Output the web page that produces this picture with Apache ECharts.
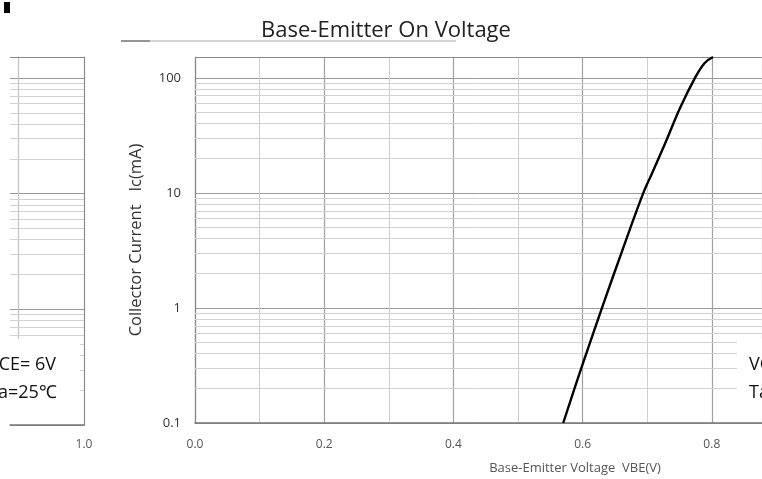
<!DOCTYPE html>
<html><head><meta charset="utf-8">
<script src="https://cdn.jsdelivr.net/npm/echarts@6/dist/echarts.min.js"></script>
<style>html,body{margin:0;padding:0;background:#fff}#c{width:762px;height:479px}</style>
</head><body><div id="c"></div>
<script>
// Data
const vbe = [0.570, 0.598, 0.630, 0.660, 0.694, 0.707, 0.729, 0.751, 0.774, 0.789, 0.802];
const ic  = [0.1, 0.3, 1, 3, 10, 14.6, 28, 55, 100, 135, 152];
const minorGridValues = [0.2,0.3,0.4,0.5,0.6,0.7,0.8,0.9, 2,3,4,5,6,7,8,9, 20,30,40,50,60,70,80,90];
const yMin = 0.1;
const yTop = 152;
const fragmentLabels = [1.0];
const titleText = 'Base-Emitter On Voltage';
const yName = 'Collector Current   Ic(mA)';
const xName = 'Base-Emitter Voltage  VBE(V)';
const condLines = ['VCE= 6V', 'Ta=25\u2103'];

const font = 'Open Sans, sans-serif';
const chart = echarts.init(document.getElementById('c'), null, {renderer:'canvas'});
const pts = vbe.map((v,i)=>[v, ic[i]]);
function gridLines(){
  const d = minorGridValues.map(v=>({yAxis:v}));
  d.push({yAxis:yTop, lineStyle:{color:'#8a8a8a', width:1.2}});
  return {
    silent:true, symbol:'none', animation:false, label:{show:false},
    lineStyle:{color:'#d2d2d2', width:1, type:'solid'}, data:d
  };
}
function yAx(gi, main){
  return {
    type:'log', logBase:10, min:yMin, max:yTop, gridIndex:gi, position: main ? 'left' : 'right',
    axisLine:{show:true, lineStyle:{color:'#8a8a8a', width:1.2}}, axisTick:{show:false},
    axisLabel:{show:main, color:'#333', fontSize:13, fontFamily:font, margin:14, showMaxLabel:false},
    splitLine:{show:true, lineStyle:{color:'#9a9a9a', width:1}},
    name: main ? yName : '', nameLocation:'middle', nameGap:50, nameRotate:90,
    nameTextStyle:{color:'#333', fontSize:16.5, fontFamily:font}
  };
}
chart.setOption({
  animation:false,
  backgroundColor:'#fff',
  grid:[
    {left:195, top:57, width:567, height:366, show:false},
    {left:10, top:57, width:74, height:368, show:false},
    {left:18, top:57, width:66, height:282, show:false}
  ],
  xAxis:[
    {type:'value', min:0, max:0.8777, interval:0.2, gridIndex:0,
     axisLine:{show:true, onZero:false, lineStyle:{color:'#777', width:1.5}},
     axisTick:{show:false},
     axisLabel:{color:'#555', fontSize:12, fontFamily:font, margin:16,
       formatter:v=>v.toFixed(1), showMaxLabel:false},
     splitLine:{show:true, lineStyle:{color:'#a0a0a0', width:1.2}},
     minorTick:{show:false, splitNumber:2},
     minorSplitLine:{show:true, lineStyle:{color:'#cfcfcf', width:1}}},
    {type:'value', min:0.888, max:1.0, gridIndex:1,
     axisLine:{show:true, onZero:false, lineStyle:{color:'#777', width:1.5}},
     axisTick:{show:false},
     axisLabel:{color:'#555', fontSize:12, fontFamily:font, margin:14,
       customValues:fragmentLabels, formatter:v=>v.toFixed(1)},
     splitLine:{show:false}},
    {type:'value', min:0.9, max:1.0, interval:0.1, gridIndex:2,
     axisLine:{show:false}, axisTick:{show:false}, axisLabel:{show:false},
     splitLine:{show:false}}
  ],
  yAxis:[ yAx(0, true), yAx(1, false),
    {type:'value', min:0, max:1, gridIndex:2, position:'left',
     axisLine:{show:true, lineStyle:{color:'#c4c4c4', width:1.3}},
     axisTick:{show:false}, axisLabel:{show:false}, splitLine:{show:false}} ],
  series:[
    {type:'line', xAxisIndex:0, yAxisIndex:0, data:pts, smooth:0.4, showSymbol:false,
     lineStyle:{color:'#000', width:2.4}, markLine:gridLines(), z:5},
    {type:'scatter', xAxisIndex:1, yAxisIndex:1, data:[[0.95, 1]], symbolSize:0, silent:true,
     itemStyle:{opacity:0}, markLine:gridLines(), z:1},
    {type:'scatter', xAxisIndex:2, yAxisIndex:2, data:[[0.95, 0.5]], symbolSize:0, silent:true,
     itemStyle:{opacity:0}}
  ],
  graphic:[
    {type:'rect', shape:{x:10,y:339,width:70,height:80}, style:{fill:'#fff'}, z:100},
    {type:'rect', shape:{x:737,y:339,width:30,height:80}, style:{fill:'#fff'}, z:100},
    {type:'rect', shape:{x:4,y:2,width:6,height:11}, style:{fill:'#000'}, z:110},
    {type:'line', shape:{x1:121,y1:41,x2:456,y2:41}, style:{stroke:'#aaa', lineWidth:1}, z:90},
    {type:'line', shape:{x1:121,y1:41,x2:150,y2:41}, style:{stroke:'#555', lineWidth:1}, z:91},
    {type:'text', x:386, y:31, style:{text:titleText, fill:'#222', font:'22px '+font, textAlign:'center', textVerticalAlign:'middle'}, z:110},
    {type:'text', x:-12, y:365, style:{text:condLines[0], fill:'#111', font:'18px '+font, textVerticalAlign:'middle'}, z:110},
    {type:'text', x:-12, y:393, style:{text:condLines[1], fill:'#111', font:'18px '+font, textVerticalAlign:'middle'}, z:110},
    {type:'text', x:749, y:365, style:{text:condLines[0], fill:'#111', font:'18px '+font, textVerticalAlign:'middle'}, z:110},
    {type:'text', x:749, y:393, style:{text:condLines[1], fill:'#111', font:'18px '+font, textVerticalAlign:'middle'}, z:110},
    {type:'text', x:575, y:468, style:{text:xName, fill:'#555', font:'13px '+font, textAlign:'center', textVerticalAlign:'middle'}, z:110}
  ]
});
</script></body></html>
